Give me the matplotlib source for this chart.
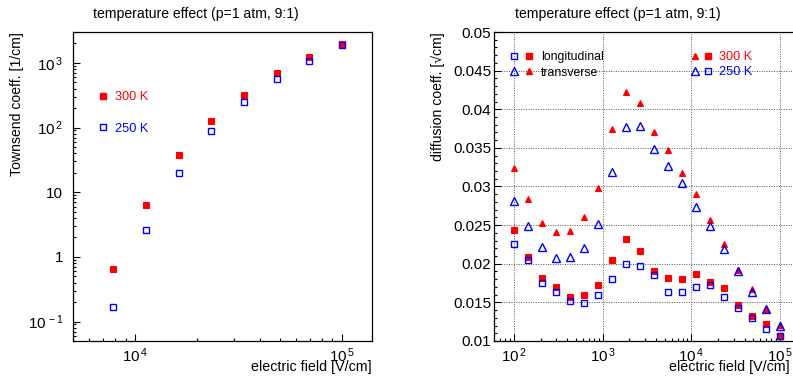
import matplotlib
matplotlib.use("Agg")
import matplotlib.pyplot as plt
from matplotlib.lines import Line2D
from matplotlib.legend_handler import HandlerTuple
from matplotlib.ticker import FixedLocator, FixedFormatter, LogLocator, MultipleLocator, FormatStrFormatter, NullFormatter

plt.rcParams['font.family'] = ['Liberation Sans', 'DejaVu Sans']
plt.rcParams['mathtext.fontset'] = 'custom'
plt.rcParams['mathtext.rm'] = 'Liberation Sans'
plt.rcParams['mathtext.it'] = 'Liberation Sans:italic'
plt.rcParams['mathtext.bf'] = 'Liberation Sans:bold'

RED = '#ff0000'
BLUE = '#0000ff'

# electric field grid [V/cm]
field = [100, 144, 207, 298, 428, 616, 886, 1274, 1833, 2637,
         3793, 5456, 7848, 11288, 16238, 23357, 33598, 48329, 69519, 100000]

# Townsend coefficient [1/cm] (last 8 field points)
town_field = field[12:]
town_300 = [0.65, 6.3, 37, 128, 322, 700, 1230, 1950]
town_250 = [0.17, 2.6, 19.6, 87, 251, 567, 1070, 1890]

# diffusion coefficients [sqrt(cm)]
long_300 = [0.0244, 0.0209, 0.0182, 0.0170, 0.0157, 0.0159, 0.0172, 0.0205, 0.0232, 0.0217,
            0.0191, 0.0182, 0.0180, 0.0187, 0.0177, 0.0168, 0.0147, 0.0132, 0.0122, 0.0107]
long_250 = [0.0225, 0.0205, 0.0175, 0.0164, 0.0152, 0.0149, 0.0160, 0.0180, 0.0200, 0.0197,
            0.0185, 0.0164, 0.0163, 0.0170, 0.0172, 0.0157, 0.0143, 0.0130, 0.0115, 0.0106]
trans_300 = [0.0324, 0.0284, 0.0253, 0.0241, 0.0243, 0.0260, 0.0298, 0.0375, 0.0422, 0.0408,
             0.0370, 0.0347, 0.0317, 0.0290, 0.0257, 0.0225, 0.0192, 0.0167, 0.0141, 0.0121]
trans_250 = [0.0281, 0.0249, 0.0222, 0.0208, 0.0209, 0.0221, 0.0252, 0.0319, 0.0377, 0.0378,
             0.0348, 0.0326, 0.0304, 0.0273, 0.0249, 0.0219, 0.0191, 0.0163, 0.0141, 0.0119]

title = 'temperature effect (p=1 atm, 9:1)'

fig = plt.figure(figsize=(7.93, 3.80), dpi=100)
W, H = 793.0, 380.0
ax1 = fig.add_axes([73 / W, (H - 341) / H, 299 / W, 309 / H])
ax2 = fig.add_axes([494 / W, (H - 341) / H, 299 / W, 309 / H])


def style_axis(ax):
    for s in ax.spines.values():
        s.set_linewidth(0.9)
    ax.tick_params(which='both', direction='in', top=False, right=False, labelsize=11, width=0.8)
    ax.tick_params(which='major', length=5)
    ax.tick_params(which='minor', length=2.3)


# ---- left: Townsend coefficient ----
ax1.plot(town_field, town_300, ls='none', marker='s', ms=5, mfc=RED, mec=RED, mew=0.8)
ax1.plot(town_field, town_250, ls='none', marker='s', ms=5, mfc='none', mec=BLUE, mew=1.0)
ax1.set_xscale('log')
ax1.set_yscale('log')
ax1.set_xlim(5000, 1.4e5)
ax1.set_ylim(0.05, 3000)
style_axis(ax1)
ax1.xaxis.set_major_locator(FixedLocator([1e4, 1e5]))
ax1.xaxis.set_major_formatter(FixedFormatter([r'$10^{\,4}$', r'$10^{\,5}$']))
ax1.xaxis.set_minor_locator(LogLocator(base=10, subs=range(2, 10), numticks=20))
ax1.xaxis.set_minor_formatter(NullFormatter())
ax1.yaxis.set_major_locator(FixedLocator([0.1, 1, 10, 100, 1000]))
ax1.yaxis.set_major_formatter(FixedFormatter([r'$10^{\,-1}$', '1', '10', r'$10^{\,2}$', r'$10^{\,3}$']))
ax1.yaxis.set_minor_locator(LogLocator(base=10, subs=range(2, 10), numticks=20))
ax1.yaxis.set_minor_formatter(NullFormatter())
ax1.tick_params(axis='y', pad=7)
ax1.tick_params(axis='x', pad=4)

ax1.set_xlabel('electric field [V/cm]', fontsize=10.3, loc='right')
ax1.xaxis.set_label_coords(1.0, -0.062)
ax1.set_ylabel('Townsend coeff. [1/cm]', fontsize=10.1, loc='top')
ax1.yaxis.set_label_coords(-0.165, 1.0)

h300 = Line2D([], [], ls='none', marker='s', ms=5, mfc=RED, mec=RED)
h250 = Line2D([], [], ls='none', marker='s', ms=5, mfc='none', mec=BLUE, mew=1.0)
leg1 = ax1.legend([h300, h250], ['300 K', '250 K'], loc='upper left',
                  bbox_to_anchor=((98 - 73) / 299, 1 - (91 - 32) / 309),
                  frameon=False, fontsize=9.2, handlelength=0.8, handletextpad=0.5,
                  borderpad=0, borderaxespad=0, labelspacing=1.55)
for t, c in zip(leg1.get_texts(), [RED, BLUE]):
    t.set_color(c)

# ---- right: diffusion coefficients ----
ax2.grid(True, which='major', ls=(0, (1, 1.5)), color='#555555', lw=0.7)
ax2.set_axisbelow(True)
ax2.plot(field, long_300, ls='none', marker='s', ms=5, mfc=RED, mec=RED, mew=0.8)
ax2.plot(field, trans_300, ls='none', marker='^', ms=5, mfc=RED, mec=RED, mew=0.8)
ax2.plot(field, long_250, ls='none', marker='s', ms=5, mfc='none', mec=BLUE, mew=1.0)
ax2.plot(field, trans_250, ls='none', marker='^', ms=5.5, mfc='none', mec=BLUE, mew=1.0)
ax2.set_xscale('log')
ax2.set_xlim(59.6, 1.4e5)
ax2.set_ylim(0.01, 0.05)
style_axis(ax2)
ax2.spines['right'].set_visible(False)
ax2.xaxis.set_major_locator(FixedLocator([1e2, 1e3, 1e4, 1e5]))
ax2.xaxis.set_major_formatter(FixedFormatter([r'$10^{\,2}$', r'$10^{\,3}$', r'$10^{\,4}$', r'$10^{\,5}$']))
ax2.xaxis.set_minor_locator(LogLocator(base=10, subs=range(2, 10), numticks=20))
ax2.xaxis.set_minor_formatter(NullFormatter())
ax2.yaxis.set_major_locator(MultipleLocator(0.005))
ax2.yaxis.set_minor_locator(MultipleLocator(0.001))
ax2.yaxis.set_major_formatter(FormatStrFormatter('%g'))
ax2.tick_params(axis='y', pad=2)
ax2.tick_params(axis='x', pad=4)

ax2.set_xlabel('electric field [V/cm]', fontsize=10.3, loc='right')
ax2.xaxis.set_label_coords(0.99, -0.062)
ax2.set_ylabel('diffusion coeff. [\u221acm]', fontsize=10.1, loc='top')
ax2.yaxis.set_label_coords(-0.165, 1.0)

sq_r = Line2D([], [], ls='none', marker='s', ms=5, mfc=RED, mec=RED)
tr_r = Line2D([], [], ls='none', marker='^', ms=5, mfc=RED, mec=RED)
sq_b = Line2D([], [], ls='none', marker='s', ms=5, mfc='none', mec=BLUE, mew=1.0)
tr_b = Line2D([], [], ls='none', marker='^', ms=5.5, mfc='none', mec=BLUE, mew=1.0)

leg_a = ax2.legend([(sq_b, sq_r), (tr_b, tr_r)], ['longitudinal', 'transverse'],
                   handler_map={tuple: HandlerTuple(ndivide=None, pad=0.5)},
                   loc='upper left', bbox_to_anchor=(0.052, 0.937), frameon=False,
                   fontsize=8.8, handlelength=2.0, handletextpad=0.6,
                   borderpad=0, borderaxespad=0, labelspacing=0.25)
ax2.add_artist(leg_a)
leg_b = ax2.legend([(tr_r, sq_r), (tr_b, sq_b)], ['300 K', '250 K'],
                   handler_map={tuple: HandlerTuple(ndivide=None, pad=0.5)},
                   loc='upper left', bbox_to_anchor=(0.662, 0.937), frameon=False,
                   fontsize=9.2, handlelength=1.5, handletextpad=0.65,
                   borderpad=0, borderaxespad=0, labelspacing=0.2)
for t, c in zip(leg_b.get_texts(), [RED, BLUE]):
    t.set_color(c)

fig.text(196 / W, 1 - 14 / H, title, ha='center', va='center', fontsize=10.1)
fig.text(618 / W, 1 - 14 / H, title, ha='center', va='center', fontsize=10.1)

fig.savefig('out.png', dpi=100)
